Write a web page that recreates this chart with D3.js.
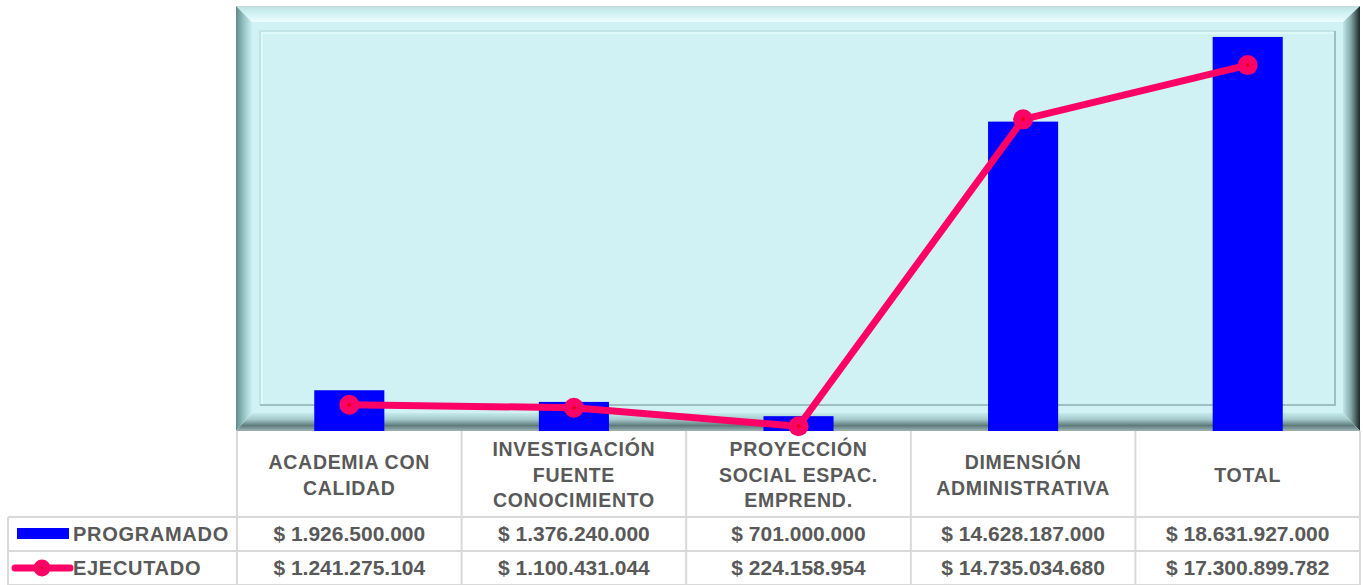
<!DOCTYPE html>
<html>
<head>
<meta charset="utf-8">
<script src="https://cdn.jsdelivr.net/npm/d3@7"></script>
<style>
  html, body { margin: 0; padding: 0; background: #ffffff; }
  svg { display: block; }
  text { font-family: "Liberation Sans", Arial, sans-serif; font-weight: bold; fill: #595959; }
</style>
</head>
<body>
<svg id="chart"></svg>
<script>
// categorias (cada una partida en lineas como en la tabla)
var categories = [
	["ACADEMIA CON", "CALIDAD"],
	["INVESTIGACIÓN", "FUENTE", "CONOCIMIENTO"],
	["PROYECCIÓN", "SOCIAL ESPAC.", "EMPREND."],
	["DIMENSIÓN", "ADMINISTRATIVA"],
	["TOTAL"]
];
var seriesNames = ["PROGRAMADO", "EJECUTADO"];
var programado = [1926500000, 1376240000, 701000000, 14628187000, 18631927000];
var ejecutado = [1241275104, 1100431044, 224158954, 14735034680, 17300899782];
var yMax = 20000000000;

const W = 1363, H = 585;
const frame = {left: 236, right: 1360, top: 6, bottom: 431};
const bev = 16;
const table = {left: 8, header: 431, row1: 517, row2: 551, bottom: 585};

var svg = d3.select('#chart').attr('width', W).attr('height', H);

var es = d3.formatLocale({decimal: ",", thousands: ".", grouping: [3], currency: ["$ ", ""]});
var money = es.format("$,.0f");

// escalas
var xScale = d3.scaleBand()
	.domain(d3.range(categories.length))
	.range([frame.left + 1, frame.right])
	.padding(0);
var yScale = d3.scaleLinear()
	.domain([0, yMax])
	.range([frame.bottom, 8]);

var barW = xScale.bandwidth() * 0.312;

// gradientes del marco biselado
var defs = svg.append('defs');
function grad(id, x1, y1, x2, y2, stops) {
	var g = defs.append('linearGradient').attr('id', id)
		.attr('x1', x1).attr('y1', y1).attr('x2', x2).attr('y2', y2);
	stops.forEach(function(s) {
		g.append('stop').attr('offset', s[0]).attr('stop-color', s[1]);
	});
}
grad('gTop', 0, 0, 0, 1, [[0, '#c3dcdd'], [0.3, '#c9eef0'], [1, '#eefcfd']]);
grad('gLeft', 0, 0, 1, 0, [[0, '#5f8b8d'], [0.5, '#98c4c6'], [1, '#cdeff1']]);
grad('gRight', 0, 0, 1, 0, [[0, '#bfe6e8'], [0.45, '#87a9aa'], [1, '#1b2727']]);
grad('gBottom', 0, 0, 0, 1, [[0, '#c4eaec'], [0.35, '#a6cbcd'], [0.7, '#5e7b7c'], [1, '#9fb5b6']]);

var fr = svg.append('g').attr('class', 'frame');
var L = frame.left, R = frame.right, T = frame.top, B = frame.bottom;
fr.append('rect').attr('x', L + bev).attr('y', T + bev)
	.attr('width', R - L - 2 * bev).attr('height', B - T - 2 * bev)
	.attr('fill', '#d0f2f5');
fr.append('polygon').attr('points', [[L, T], [R, T], [R - bev - 1, T + bev], [L + bev, T + bev]].join(' '))
	.attr('fill', 'url(#gTop)');
fr.append('polygon').attr('points', [[L, T], [L + bev, T + bev], [L + bev, B - bev - 2], [L, B]].join(' '))
	.attr('fill', 'url(#gLeft)');
fr.append('polygon').attr('points', [[R, T], [R, B], [R - bev - 1, B - bev - 2], [R - bev - 1, T + bev]].join(' '))
	.attr('fill', 'url(#gRight)');
fr.append('polygon').attr('points', [[L, B], [L + bev, B - bev - 2], [R - bev - 1, B - bev - 2], [R, B]].join(' '))
	.attr('fill', 'url(#gBottom)');

// rectangulo interior en relieve
var ix0 = L + 24, ix1 = R - 25, iy0 = T + 25, iy1 = B - 26;
fr.append('path').attr('d', 'M' + ix0 + ',' + iy1 + 'V' + iy0 + 'H' + ix1)
	.attr('fill', 'none').attr('stroke', '#bcdfe1').attr('stroke-width', 1.5);
fr.append('path').attr('d', 'M' + (ix0 + 2) + ',' + (iy1 - 1) + 'V' + (iy0 + 2) + 'H' + (ix1 - 1))
	.attr('fill', 'none').attr('stroke', '#e4fafb').attr('stroke-width', 1.5);
fr.append('path').attr('d', 'M' + ix1 + ',' + iy0 + 'V' + iy1 + 'H' + ix0)
	.attr('fill', 'none').attr('stroke', '#9dbfc1').attr('stroke-width', 2);

// barras PROGRAMADO
svg.append('g').attr('class', 'bars')
	.selectAll('rect')
	.data(programado)
	.enter().append('rect')
		.attr('x', function(d, i) { return xScale(i) + xScale.bandwidth() / 2 - barW / 2; })
		.attr('y', function(d) { return yScale(d); })
		.attr('width', barW)
		.attr('height', function(d) { return yScale(0) - yScale(d); })
		.attr('fill', '#0000ff');

// linea EJECUTADO
var line = d3.line()
	.x(function(d, i) { return xScale(i) + xScale.bandwidth() / 2; })
	.y(function(d) { return yScale(d); });
var serie = svg.append('g').attr('class', 'serie');
serie.append('path')
	.datum(ejecutado)
	.attr('d', line)
	.attr('fill', 'none')
	.attr('stroke', '#ff0066')
	.attr('stroke-width', 7)
	.attr('stroke-linejoin', 'round');
var dots = serie.selectAll('.dot')
	.data(ejecutado)
	.enter().append('g')
		.attr('class', 'dot')
		.attr('transform', function(d, i) { return 'translate(' + (xScale(i) + xScale.bandwidth() / 2) + ',' + yScale(d) + ')'; });
dots.append('circle').attr('r', 10).attr('fill', '#ff0066');
dots.append('circle').attr('r', 2).attr('fill', '#e8001c');

// tabla de datos
var grid = svg.append('g').attr('class', 'grid')
	.attr('stroke', '#d9d9d9').attr('stroke-width', 2);
var cols = d3.range(categories.length + 1).map(function(i) {
	return i < categories.length ? xScale(i) : frame.right;
});
grid.selectAll('.v').data(cols).enter().append('line')
	.attr('x1', function(d) { return d; }).attr('x2', function(d) { return d; })
	.attr('y1', table.header).attr('y2', table.bottom);
grid.append('line').attr('x1', table.left).attr('x2', table.left).attr('y1', table.row1).attr('y2', table.bottom);
[table.row1, table.row2, table.bottom].forEach(function(y) {
	grid.append('line').attr('x1', table.left).attr('x2', frame.right).attr('y1', y).attr('y2', y);
});

// encabezados de categoria
var headG = svg.append('g').attr('class', 'heads');
categories.forEach(function(lines, i) {
	var cx = xScale(i) + xScale.bandwidth() / 2;
	var mid = (table.header + table.row1) / 2 + 1;
	var lh = 25.5;
	var t = headG.append('text')
		.attr('text-anchor', 'middle')
		.attr('font-size', 19.5)
		.attr('letter-spacing', 0.7);
	lines.forEach(function(s, j) {
		t.append('tspan')
			.attr('x', cx)
			.attr('y', mid + (j - (lines.length - 1) / 2) * lh)
			.attr('dy', '0.35em')
			.text(s);
	});
});

// filas de valores
[programado, ejecutado].forEach(function(vals, r) {
	var y = r === 0 ? (table.row1 + table.row2) / 2 : (table.row2 + table.bottom) / 2;
	svg.append('g').selectAll('text')
		.data(vals)
		.enter().append('text')
			.attr('x', function(d, i) { return xScale(i) + xScale.bandwidth() / 2; })
			.attr('y', y)
			.attr('dy', '0.35em')
			.attr('text-anchor', 'middle')
			.attr('font-size', 21)
			.text(function(d) { return money(d); });
});

// leyenda en la tabla
var leg = svg.append('g').attr('class', 'legend');
var y1 = (table.row1 + table.row2) / 2, y2 = (table.row2 + table.bottom) / 2;
leg.append('rect').attr('x', 17).attr('y', y1 - 6).attr('width', 52).attr('height', 11).attr('fill', '#0000ff');
leg.append('line').attr('x1', 15).attr('x2', 70).attr('y1', y2).attr('y2', y2)
	.attr('stroke', '#ff0066').attr('stroke-width', 7).attr('stroke-linecap', 'round');
leg.append('circle').attr('cx', 42).attr('cy', y2).attr('r', 8.5).attr('fill', '#ff0066');
leg.append('circle').attr('cx', 42).attr('cy', y2).attr('r', 1.5).attr('fill', '#e8001c');
[y1, y2].forEach(function(y, i) {
	leg.append('text')
		.attr('x', 73).attr('y', y).attr('dy', '0.35em')
		.attr('font-size', 20)
		.attr('letter-spacing', 0.7)
		.text(seriesNames[i]);
});
</script>
</body>
</html>
